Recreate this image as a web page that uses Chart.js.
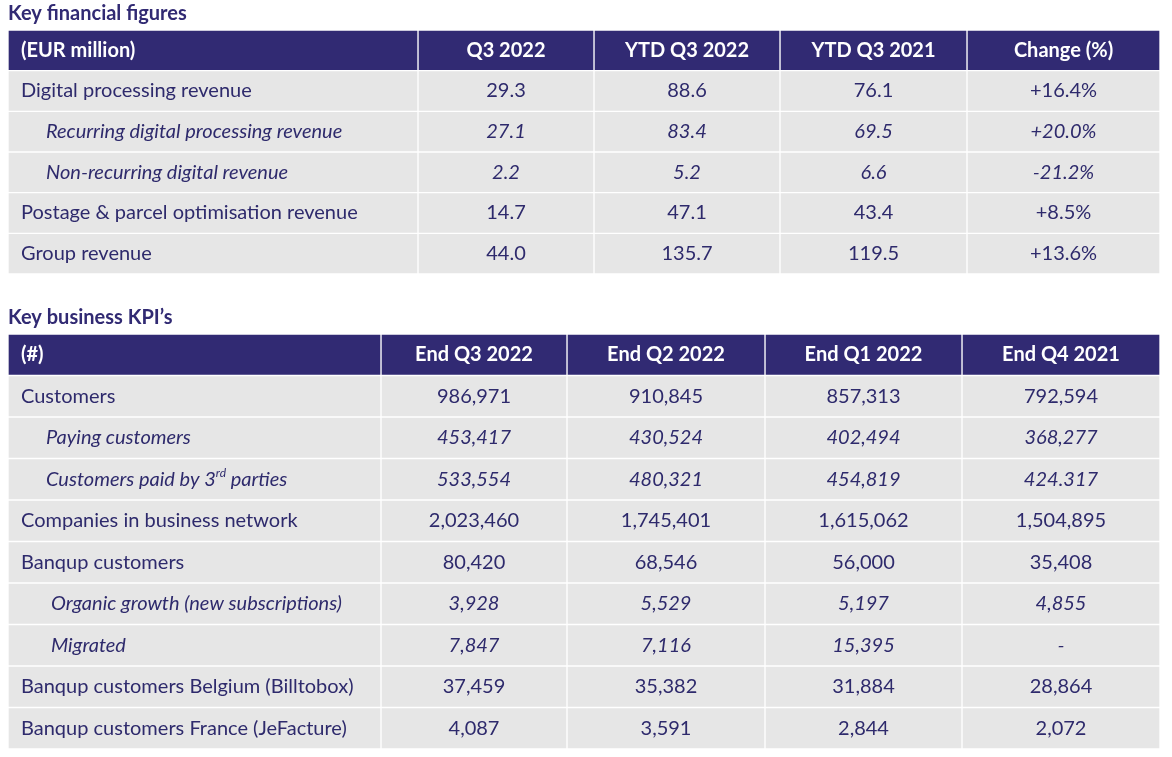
<!DOCTYPE html>
<html>
<head>
<meta charset="utf-8">
<script src="https://cdn.jsdelivr.net/npm/chart.js@4"></script>
<style>
	body { margin: 0; background: #ffffff; }
	canvas { position: absolute; left: 0; }
	#chart-fin { top: 0; }
	#chart-kpi { top: 300px; }
</style>
</head>
<body>
<canvas id="chart-fin" width="1172" height="280"></canvas>
<canvas id="chart-kpi" width="1172" height="457"></canvas>
<script>
const FontFamily = "Lato, 'Open Sans', sans-serif";
const FontSize = 20;
const NavyColor = "#312a73";
const TextColor = "#2e2a6c";
const CellColor = "#e6e6e6";

// Key financial figures
const finTitle = "Key financial figures";
const finHeader = [ "(EUR million)", "Q3 2022", "YTD Q3 2022", "YTD Q3 2021", "Change (%)" ];
const finLabels = [ "Digital processing revenue", "Recurring digital processing revenue",
		"Non-recurring digital revenue", "Postage & parcel optimisation revenue", "Group revenue" ];
const finQ3_2022 = [ "29.3", "27.1", "2.2", "14.7", "44.0" ];
const finYtdQ3_2022 = [ "88.6", "83.4", "5.2", "47.1", "135.7" ];
const finYtdQ3_2021 = [ "76.1", "69.5", "6.6", "43.4", "119.5" ];
const finChange = [ "+16.4%", "+20.0%", "-21.2%", "+8.5%", "+13.6%" ];
const finLevel = [ 0, 1, 1, 0, 0 ];

// Key business KPI's
const kpiTitle = "Key business KPI\u2019s";
const kpiHeader = [ "(#)", "End Q3 2022", "End Q2 2022", "End Q1 2022", "End Q4 2021" ];
const kpiLabels = [ "Customers", "Paying customers", "Customers paid by 3^rd^ parties",
		"Companies in business network", "Banqup customers", "Organic growth (new subscriptions)",
		"Migrated", "Banqup customers Belgium (Billtobox)", "Banqup customers France (JeFacture)" ];
const kpiEndQ3_2022 = [ "986,971", "453,417", "533,554", "2,023,460", "80,420", "3,928", "7,847", "37,459", "4,087" ];
const kpiEndQ2_2022 = [ "910,845", "430,524", "480,321", "1,745,401", "68,546", "5,529", "7,116", "35,382", "3,591" ];
const kpiEndQ1_2022 = [ "857,313", "402,494", "454,819", "1,615,062", "56,000", "5,197", "15,395", "31,884", "2,844" ];
const kpiEndQ4_2021 = [ "792,594", "368,277", "424.317", "1,504,895", "35,408", "4,855", "-", "28,864", "2,072" ];
const kpiLevel = [ 0, 1, 1, 0, 0, 2, 2, 0, 0 ];

// layout (pixels inside the table area)
const TableWidth = 1152;
const LevelIndent = [ 13, 38, 43 ];
const finEdges = [ 0, 410, 586, 772, 959, 1152 ];
const kpiEdges = [ 0, 373, 559, 757, 954, 1152 ];

const cellText = {
	id: "cellText",
	afterDatasetsDraw(chart, args, options)
	{
		const { ctx, scales: { x, y } } = chart;
		const t = options.table;
		ctx.save();
		ctx.textBaseline = "middle";

			// header row
		let yPix = y.getPixelForValue(0) + options.shiftY;
		ctx.fillStyle = "#ffffff";
		ctx.font = "bold " + FontSize + "px " + FontFamily;
		for (let c = 0; c < t.header.length; c++)
		{
			if (c == 0)
			{
				ctx.textAlign = "left";
				ctx.fillText(t.header[c], x.getPixelForValue(t.edges[0] + LevelIndent[0]), yPix);
			}
			else
			{
				ctx.textAlign = "center";
				ctx.fillText(t.header[c], x.getPixelForValue((t.edges[c] + t.edges[c + 1]) / 2), yPix);
			}
		}

			// body rows
		ctx.fillStyle = TextColor;
		for (let r = 0; r < t.labels.length; r++)
		{
			yPix = y.getPixelForValue(r + 1) + options.shiftY;
			const style = t.level[r] > 0 ? "italic " : "";
			const font = style + FontSize + "px " + FontFamily;
			const smallFont = style + Math.round(FontSize * 0.62) + "px " + FontFamily;

			ctx.textAlign = "left";
			let xPix = x.getPixelForValue(t.edges[0] + LevelIndent[t.level[r]]);
			const parts = t.labels[r].split("^");
			for (let p = 0; p < parts.length; p++)
			{
				ctx.font = p % 2 ? smallFont : font;
				ctx.fillText(parts[p], xPix, p % 2 ? yPix - 6 : yPix);
				xPix += ctx.measureText(parts[p]).width;
			}

			ctx.font = font;
			ctx.textAlign = "center";
			for (let c = 0; c < t.columns.length; c++)
				ctx.fillText(t.columns[c][r], x.getPixelForValue((t.edges[c + 1] + t.edges[c + 2]) / 2), yPix);
		}
		ctx.restore();
	}
};

function DrawTable(canvasId, title, header, labels, columns, level, edges, padding)
{
	const rowNames = [ "header" ].concat(labels);
	const datasets = [];
	for (let c = 0; c < header.length; c++)
	{
		datasets.push({
			data: rowNames.map(() => [ edges[c], edges[c + 1] ]),
			backgroundColor: rowNames.map((n, i) => i == 0 ? NavyColor : CellColor),
			borderColor: "#ffffff",
			borderWidth: 1,
			borderSkipped: false,
			grouped: false,
			barPercentage: 1,
			categoryPercentage: 1,
		});
	}

	return new Chart(document.getElementById(canvasId), {
		type: "bar",
		data: {
			labels: rowNames,
			datasets: datasets,
		},
		options: {
			indexAxis: "y",
			responsive: false,
			animation: false,
			events: [],
			layout: {
				padding: padding,
			},
			plugins: {
				legend: { display: false },
				tooltip: { enabled: false },
				title: {
					display: true,
					text: title,
					align: "start",
					color: NavyColor,
					font: { family: FontFamily, size: FontSize, weight: "bold", lineHeight: 1.2 },
					padding: { top: padding.titleTop, bottom: padding.titleBottom },
				},
				cellText: {
					table: { header: header, labels: labels, columns: columns, level: level, edges: edges },
					shiftY: 0,
				},
			},
			scales: {
				x: { type: "linear", display: false, min: 0, max: TableWidth },
				y: { display: false },
			},
		},
		plugins: [ cellText ],
	});
}

DrawTable("chart-fin", finTitle, finHeader, finLabels,
		[ finQ3_2022, finYtdQ3_2022, finYtdQ3_2021, finChange ], finLevel, finEdges,
		{ left: 8, right: 12, top: 0, bottom: 6, titleTop: 2, titleBottom: 4 });

DrawTable("chart-kpi", kpiTitle, kpiHeader, kpiLabels,
		[ kpiEndQ3_2022, kpiEndQ2_2022, kpiEndQ1_2022, kpiEndQ4_2021 ], kpiLevel, kpiEdges,
		{ left: 8, right: 12, top: 0, bottom: 8, titleTop: 6, titleBottom: 4 });
</script>
</body>
</html>
